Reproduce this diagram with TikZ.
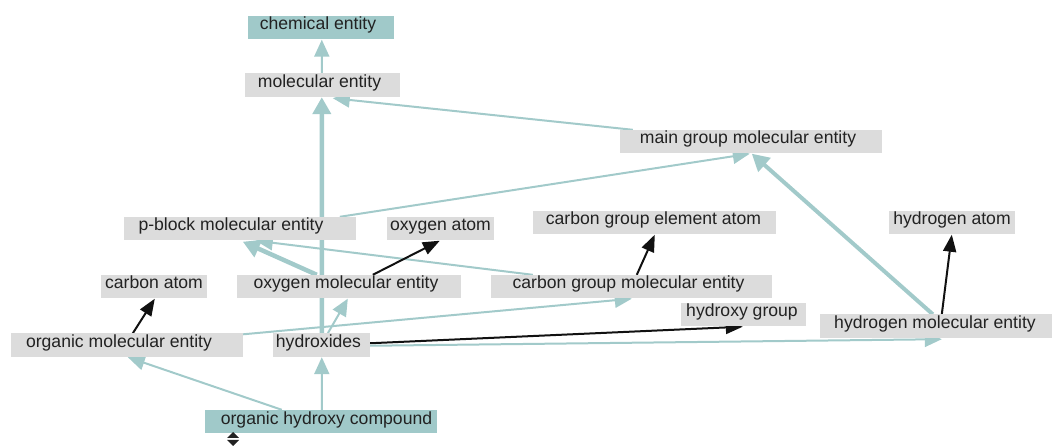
\documentclass[tikz,border=0pt]{standalone}
\usepackage{fontspec}
\setmainfont{Liberation Sans}
\usetikzlibrary{arrows.meta,calc}

\definecolor{edgeteal}{HTML}{A2CACA}
\definecolor{rootteal}{HTML}{A0C9C9}
\definecolor{termgray}{HTML}{DCDCDC}
\definecolor{labelink}{HTML}{222222}
\definecolor{relink}{HTML}{111111}

\pgfdeclarelayer{edges}
\pgfsetlayers{edges,main}

\tikzset{
  % labels sit a little off the box centre; the kern nudges them
  nudge/.style={execute at begin node=\kern#1bp},
  term/.style={rectangle, fill=termgray, draw=none, inner sep=0pt,
    text height=14bp, text depth=9.5bp, text=labelink,
    font=\fontsize{17.6bp}{21bp}\selectfont, nudge=-6},
  rootterm/.style={term, fill=rootteal},
  isa/.style={draw=edgeteal, line width=2bp,
    -{Triangle[length=17bp,width=15bp]}},
  isathick/.style={draw=edgeteal, line width=4.5bp,
    -{Triangle[length=17bp,width=18bp]}},
  hasrel/.style={draw=relink, line width=2bp,
    -{Triangle[length=17bp,width=13bp]}},
}

\begin{document}
\begin{tikzpicture}[x=1bp, y=-1bp]
\useasboundingbox (0,0) rectangle (1054,446);

% terms
\node[rootterm, minimum width=146bp]           (chem)   at (321,27.75)   {chemical entity};
\node[term, minimum width=155bp]               (mol)    at (322.5,85.25) {molecular entity};
\node[term, minimum width=262bp]               (main)   at (751,141.75)  {main group molecular entity};
\node[term, minimum width=232bp, nudge=-12]    (pblock) at (240,228.75)  {p-block molecular entity};
\node[term, minimum width=107bp, nudge=6]      (oxatom) at (440.5,228.75){oxygen atom};
\node[term, minimum width=243bp, nudge=4]      (cgea)   at (654.5,222.75){carbon group element atom};
\node[term, minimum width=126bp, nudge=6]      (hatom)  at (952,222.75)  {hydrogen atom};
\node[term, minimum width=106bp, nudge=6]      (catom)  at (154,286.75)  {carbon atom};
\node[term, minimum width=224bp]               (oxmol)  at (349,286.75)  {oxygen molecular entity};
\node[term, minimum width=281bp]               (cgmol)  at (631.5,286.75){carbon group molecular entity};
\node[term, minimum width=125bp, nudge=3]      (hgroup) at (743.5,314.75){hydroxy group};
\node[term, minimum width=232bp, nudge=4]      (hmol)   at (936,326.25)  {hydrogen molecular entity};
\node[term, minimum width=232bp, nudge=-10]    (orgmol) at (127,345.25)  {organic molecular entity};
\node[term, minimum width=97bp, nudge=0]       (hydrox) at (321.5,345.25){hydroxides};
\node[rootterm, minimum width=232bp, nudge=17] (ohc)    at (321,421.75)  {organic hydroxy compound};

% expand / collapse marker below the focus term
\fill[labelink] (227,438) -- (239,438) -- (233,432) -- cycle;
\fill[labelink] (227,440) -- (239,440) -- (233,446) -- cycle;

% relations, kept beneath the term boxes
\begin{pgfonlayer}{edges}
  \draw[isa]      ($(mol.north west)+(77,0)$)     -- ($(chem.south west)+(74,0)$);
  \draw[isathick] ($(hydrox.north west)+(49,0)$)  -- ($(mol.south west)+(77,0)$);
  \draw[isa]      ($(main.north west)+(13,0)$)    -- ($(mol.south west)+(88,1)$);
  \draw[isa]      ($(pblock.north west)+(216,0)$) -- ($(main.south west)+(130,0)$);
  \draw[isathick, line width=4bp] ($(hmol.north west)+(113,0)$) -- ($(main.south west)+(132,0)$);
  \draw[isathick] ($(oxmol.north west)+(80,0)$)   -- ($(pblock.south west)+(119,1)$);
  \draw[isa]      ($(cgmol.north west)+(42,0)$)   -- ($(pblock.south west)+(132,0)$);
  \draw[hasrel]   ($(oxmol.north west)+(136,0)$)  -- ($(oxatom.south west)+(53,0)$);
  \draw[hasrel]   ($(cgmol.north west)+(146,0)$)  -- ($(cgea.south west)+(122,0)$);
  \draw[hasrel]   ($(hmol.north west)+(122,0)$)   -- ($(hatom.south west)+(63,0)$);
  \draw[hasrel]   ($(orgmol.north west)+(122,0)$) -- ($(catom.south west)+(54,0)$);
  \draw[isa]      ($(hydrox.north west)+(55,0)$)  -- ($(oxmol.south west)+(111,0)$);
  \draw[isa]      ($(orgmol.north east)+(0,1)$)   -- ($(cgmol.south west)+(141,0)$);
  \draw[hasrel]   ($(hydrox.east)+(0,-2)$)        -- ($(hgroup.south west)+(62,0)$);
  \draw[isa]      ($(hydrox.east)+(0,0.5)$)       -- ($(hmol.south west)+(122,1)$);
  \draw[isa]      ($(ohc.north west)+(77,0)$)     -- ($(orgmol.south west)+(117,0)$);
  \draw[isa]      ($(ohc.north west)+(117,0)$)    -- ($(hydrox.south west)+(49,0)$);
\end{pgfonlayer}
\end{tikzpicture}
\end{document}
